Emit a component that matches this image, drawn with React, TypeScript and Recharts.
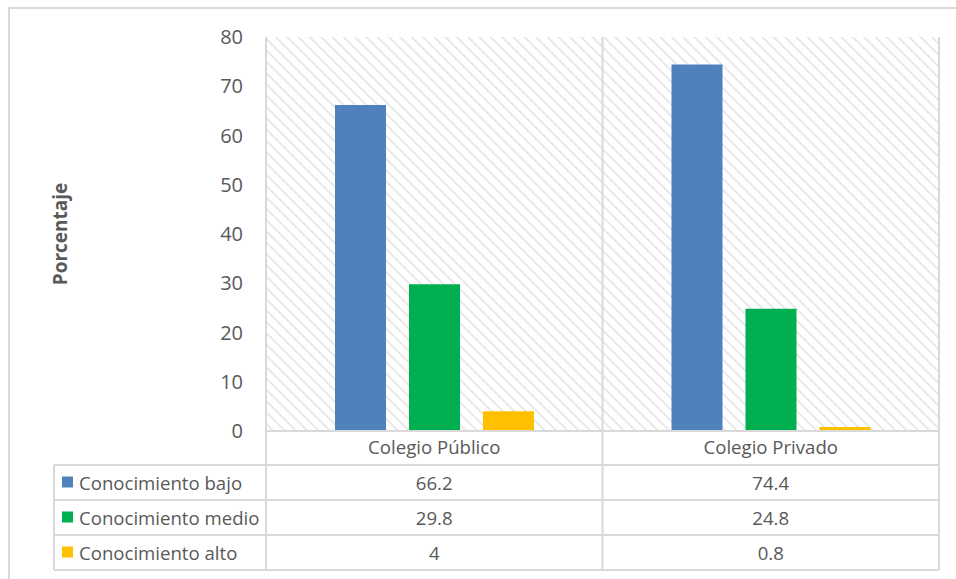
import React from 'react';
import { BarChart, Bar, XAxis, YAxis, CartesianGrid } from 'recharts';

const categories = ['Colegio Público', 'Colegio Privado'];
const bajo = [66.2, 74.4];
const medio = [29.8, 24.8];
const alto = [4, 0.8];
const yTicks = [0, 10, 20, 30, 40, 50, 60, 70, 80];

const series = [
  { key: 'bajo', name: 'Conocimiento bajo', color: '#4f81bd', values: bajo },
  { key: 'medio', name: 'Conocimiento medio', color: '#00b050', values: medio },
  { key: 'alto', name: 'Conocimiento alto', color: '#ffc000', values: alto },
];

const data = categories.map((category, i) => ({
  category,
  bajo: bajo[i],
  medio: medio[i],
  alto: alto[i],
}));

// layout
const W = 956;
const H = 579;
const PLOT_LEFT = 266;
const PLOT_TOP = 37;
const PLOT_RIGHT = 939;
const PLOT_BOTTOM = 431;
const Y_AXIS_W = 220;
const X_AXIS_H = 34;
const ROW_H = 35;
const TABLE_LEFT = 54;
const GRID = '#d9d9d9';
const TEXT = '#595959';
const FONT = '"Open Sans", sans-serif';
const TABLE_FS = 18.6;

const DataTable = () => {
  const band = (PLOT_RIGHT - PLOT_LEFT) / categories.length;
  const headerBottom = PLOT_BOTTOM + X_AXIS_H;
  const tableBottom = headerBottom + ROW_H * series.length;
  const cols = categories.map((_, i) => PLOT_LEFT + band * i).concat(PLOT_RIGHT);
  return (
    <svg width={W} height={H} style={{ position: 'absolute', left: 0, top: 0, pointerEvents: 'none' }}>
      {cols.map((x, i) => (
        <line key={'v' + i} x1={x} x2={x} y1={PLOT_TOP} y2={tableBottom} stroke={GRID} strokeWidth={2} />
      ))}
      <line x1={TABLE_LEFT} x2={TABLE_LEFT} y1={headerBottom} y2={tableBottom} stroke={GRID} strokeWidth={2} />
      <line x1={PLOT_LEFT} x2={PLOT_RIGHT} y1={PLOT_BOTTOM} y2={PLOT_BOTTOM} stroke={GRID} strokeWidth={2} />
      {series.map((s, r) => {
        const top = headerBottom + r * ROW_H;
        const cy = top + ROW_H / 2;
        return (
          <g key={s.key}>
            <line x1={TABLE_LEFT} x2={PLOT_RIGHT} y1={top} y2={top} stroke={GRID} strokeWidth={2} />
            <rect x={62} y={cy - 6} width={11} height={11} fill={s.color} />
            <text x={79} y={cy} dominantBaseline="central" fontSize={TABLE_FS} fill={TEXT} fontFamily={FONT}>
              {s.name}
            </text>
            {s.values.map((v, i) => (
              <text
                key={i}
                x={PLOT_LEFT + band * (i + 0.5)}
                y={cy}
                dominantBaseline="central"
                textAnchor="middle"
                fontSize={TABLE_FS}
                fill={TEXT}
                fontFamily={FONT}
              >
                {v}
              </text>
            ))}
          </g>
        );
      })}
      <line x1={TABLE_LEFT} x2={PLOT_RIGHT} y1={tableBottom} y2={tableBottom} stroke={GRID} strokeWidth={2} />
    </svg>
  );
};

export default function App() {
  return (
    <div
      style={{
        position: 'absolute',
        left: 0,
        top: 0,
        width: W,
        height: H,
        overflow: 'hidden',
        background: '#fff',
        fontFamily: FONT,
      }}
    >
      <div
        style={{
          position: 'absolute',
          left: 8,
          top: 7,
          width: 1000,
          height: 700,
          border: `2px solid ${GRID}`,
        }}
      />
      <div style={{ position: 'absolute', left: 0, top: 0 }}>
        <BarChart
          width={W}
          height={H}
          data={data}
          margin={{
            top: PLOT_TOP,
            right: W - PLOT_RIGHT,
            left: PLOT_LEFT - Y_AXIS_W,
            bottom: H - PLOT_BOTTOM - X_AXIS_H,
          }}
          barSize={51}
          barGap={23}
        >
          <defs>
            <pattern id="hatch" patternUnits="userSpaceOnUse" width={8} height={8} patternTransform="rotate(-45)">
              <line x1={0} y1={0} x2={0} y2={8} stroke="#e2e2e2" strokeWidth={3} />
            </pattern>
          </defs>
          <CartesianGrid horizontal={false} vertical={false} fill="url(#hatch)" stroke="none" />
          <XAxis
            dataKey="category"
            height={X_AXIS_H}
            axisLine={false}
            tickLine={false}
            tickSize={0}
            tickMargin={10}
            tick={{ fontSize: TABLE_FS, fill: TEXT, fontFamily: FONT }}
          />
          <YAxis
            width={Y_AXIS_W}
            domain={[0, 80]}
            ticks={yTicks}
            axisLine={false}
            tickLine={false}
            tickSize={0}
            tickMargin={23}
            tick={{ fontSize: 20, fill: TEXT, fontFamily: FONT }}
            label={{
              value: 'Porcentaje',
              angle: -90,
              position: 'insideLeft',
              offset: 14,
              style: { textAnchor: 'middle', fontSize: 19, fontWeight: 'bold', fill: TEXT, fontFamily: FONT },
            }}
          />
          {series.map((s) => (
            <Bar key={s.key} dataKey={s.key} name={s.name} fill={s.color} isAnimationActive={false} />
          ))}
        </BarChart>
      </div>
      <DataTable />
    </div>
  );
}
